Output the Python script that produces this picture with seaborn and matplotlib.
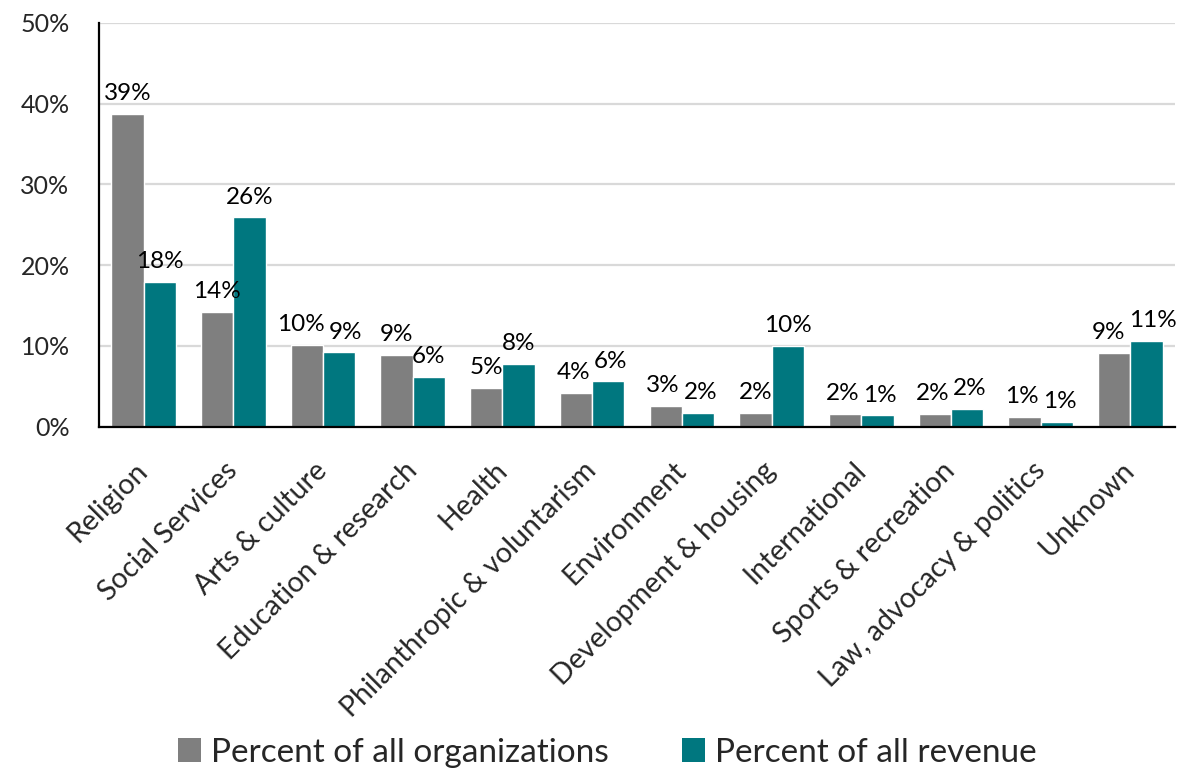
import matplotlib
matplotlib.use("Agg")
import matplotlib.pyplot as plt
import matplotlib.transforms as mtransforms
import seaborn as sns
import pandas as pd
import numpy as np
from matplotlib.patches import Patch
from matplotlib.ticker import FuncFormatter

categories = [
    "Religion", "Social Services", "Arts & culture", "Education & research",
    "Health", "Philanthropic & voluntarism", "Environment",
    "Development & housing", "International", "Sports & recreation",
    "Law, advocacy & politics", "Unknown",
]
pct_organizations = [38.7, 14.2, 10.1, 8.9, 4.8, 4.2, 2.6, 1.7, 1.6, 1.6, 1.2, 9.1]
pct_revenue = [17.9, 25.9, 9.2, 6.2, 7.8, 5.6, 1.7, 10.0, 1.4, 2.2, 0.6, 10.6]
series = ["Percent of all organizations", "Percent of all revenue"]
colors = ["#7F7F7F", "#00777F"]

df = pd.DataFrame({
    "category": categories * 2,
    "series": [series[0]] * len(categories) + [series[1]] * len(categories),
    "value": pct_organizations + pct_revenue,
})

sns.set_theme(style="white")
plt.rcParams["font.family"] = ["Lato", "DejaVu Sans"]

DPI = 100
fig = plt.figure(figsize=(11.84, 7.73), dpi=DPI)
ax = fig.add_axes([0.0834, 0.448, 0.9093, 0.5226])

sns.barplot(
    data=df, x="category", y="value", hue="series",
    order=categories, hue_order=series, palette=colors,
    width=0.72, saturation=1, errorbar=None, legend=False, ax=ax,
)

# value labels above each bar
LABEL_PAD = 7
label_sets = []
for cont in ax.containers:
    anns = ax.bar_label(cont, labels=[f"{v:.0f}%" for v in cont.datavalues],
                        padding=LABEL_PAD, fontsize=17.5, color="black")
    label_sets.append(anns)

ax.set_ylim(0, 50)
ax.set_yticks(np.arange(0, 51, 10))
ax.yaxis.set_major_formatter(FuncFormatter(lambda v, _: f"{v:.0f}%"))
ax.yaxis.grid(True, color="#D9D9D9", lw=1.6)
ax.set_axisbelow(True)

ax.set_xlim(-0.5, len(categories) - 0.5)
ax.set_xticks(range(len(categories)))
ax.set_xticklabels(categories, rotation=45, ha="right",
                   rotation_mode="anchor", fontsize=20.5)
ax.set_xticks(np.arange(-0.5, len(categories), 1), minor=True)
ax.tick_params(axis="x", which="major", length=0, pad=22)
ax.tick_params(axis="x", which="minor", length=8, width=1.5,
               direction="out", color="black")
ax.tick_params(axis="y", length=7, width=1.5, direction="out",
               color="black", labelsize=18, pad=14)

# nudge the slanted category labels slightly to the left
shift = mtransforms.ScaledTranslation(-9 / DPI, 0, fig.dpi_scale_trans)
for lab in ax.get_xticklabels():
    lab.set_transform(lab.get_transform() + shift)

for side in ["top", "right"]:
    ax.spines[side].set_visible(False)
for side in ["left", "bottom"]:
    ax.spines[side].set_color("black")
    ax.spines[side].set_linewidth(1.6)

ax.set_xlabel("")
ax.set_ylabel("")

handles = [Patch(facecolor=c, edgecolor="none") for c in colors]
fig.legend(handles, series, loc="lower center", ncol=2, frameon=False,
           fontsize=24, handlelength=0.7, handleheight=0.7,
           handletextpad=0.3, columnspacing=2.2,
           bbox_to_anchor=(0.513, -0.032))

# push apart neighbouring value labels that would touch
fig.canvas.draw()
renderer = fig.canvas.get_renderer()
gap_px = 4
for left_ann, right_ann in zip(*label_sets):
    b1 = left_ann.get_window_extent(renderer)
    b2 = right_ann.get_window_extent(renderer)
    if b1.y1 < b2.y0 or b2.y1 < b1.y0:
        continue
    overlap = b1.x1 + gap_px - b2.x0
    if overlap > 0:
        shift_pt = overlap / 2 * 72 / DPI
        left_ann.xyann = (-shift_pt, LABEL_PAD)
        right_ann.xyann = (shift_pt, LABEL_PAD)

fig.savefig("out.png", dpi=DPI)
